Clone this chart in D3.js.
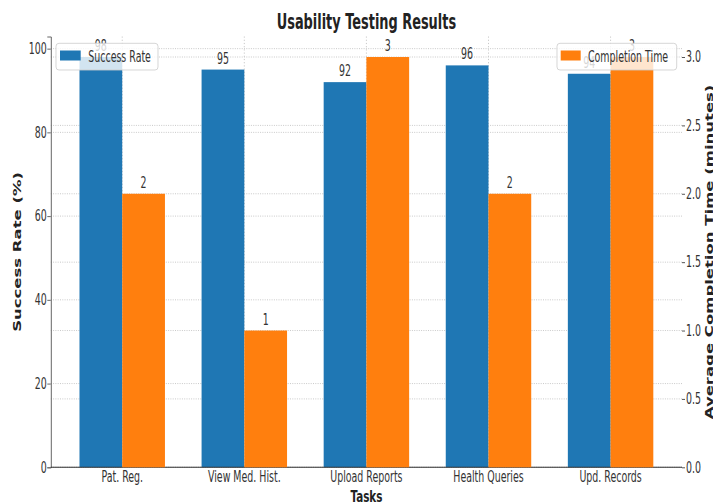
<!DOCTYPE html>
<html>
<head>
<meta charset="utf-8">
<script src="https://cdn.jsdelivr.net/npm/d3@7"></script>
<style>
  html, body { margin: 0; padding: 0; background: #fff; }
  svg { display: block; font-family: "DejaVu Sans", sans-serif; }
</style>
</head>
<body>
<svg id="chart" width="713" height="504"></svg>
<script>
// ---- data ----
const tasks = ["Pat. Reg.", "View Med. Hist.", "Upload Reports", "Health Queries", "Upd. Records"];
const successRate = [98, 95, 92, 96, 94];
const completionTime = [2, 1, 3, 2, 3];
const leftTicks = [0, 20, 40, 60, 80, 100];
const rightTicks = [0, 0.5, 1.0, 1.5, 2.0, 2.5, 3.0];
const seriesNames = ["Success Rate", "Completion Time"];
const title = "Usability Testing Results";
const xLabel = "Tasks";
const yLabelLeft = "Success Rate (%)";
const yLabelRight = "Average Completion Time (minutes)";

// ---- layout ----
const SX = 0.63;              // horizontal squeeze of the reference's text
const plot = { left: 50.8, right: 682, top: 36.5, bottom: 467.3 };
const barW = 0.35;
const blue = "#1f77b4", orange = "#ff7f0e";
const textCol = "#333";

const svg = d3.select("#chart");

const x = d3.scaleLinear().domain([-0.585, tasks.length - 1 + 0.585]).range([plot.left, plot.right]);
const yL = d3.scaleLinear().domain([0, d3.max(successRate) * 1.05]).range([plot.bottom, plot.top]);
const yR = d3.scaleLinear().domain([0, d3.max(completionTime) * 1.05]).range([plot.bottom, plot.top]);

function sText(parent, tx, ty, str, opts = {}) {
  const rot = opts.rotate ? ` rotate(${opts.rotate})` : "";
  return parent.append("text")
    .attr("transform", `translate(${tx},${ty}) scale(${SX},1)${rot}`)
    .attr("text-anchor", opts.anchor || "middle")
    .attr("font-size", opts.size || 15)
    .attr("font-weight", opts.weight || "normal")
    .attr("fill", opts.fill || textCol)
    .text(str);
}

// ---- grid ----
const grid = svg.append("g").attr("stroke", "#c9c9c9").attr("stroke-width", 1).attr("fill", "none");
grid.selectAll("line.gl").data(leftTicks).join("line")
  .attr("x1", plot.left).attr("x2", plot.right)
  .attr("y1", d => yL(d)).attr("y2", d => yL(d))
  .attr("stroke-dasharray", "1,1.3");
grid.selectAll("line.gr").data(rightTicks).join("line")
  .attr("class", "gr")
  .attr("x1", plot.left).attr("x2", plot.right)
  .attr("y1", d => yR(d)).attr("y2", d => yR(d))
  .attr("stroke-dasharray", "1,1.3");
grid.selectAll("line.gx").data(tasks).join("line")
  .attr("class", "gx")
  .attr("x1", (d, i) => x(i)).attr("x2", (d, i) => x(i))
  .attr("y1", plot.top).attr("y2", plot.bottom)
  .attr("stroke-dasharray", "1.2,2");

// ---- ax1 : success rate ----
svg.append("g").selectAll("rect").data(successRate).join("rect")
  .attr("x", (d, i) => x(i - barW)).attr("width", x(barW) - x(0))
  .attr("y", d => yL(d)).attr("height", d => yL(0) - yL(d))
  .attr("fill", blue);
const lab1 = svg.append("g");
successRate.forEach((d, i) => sText(lab1, x(i - barW / 2), yL(d) - 6, String(d)));

// left axis
const axL = svg.append("g").attr("transform", `translate(${plot.left},0)`)
  .call(d3.axisLeft(yL).tickValues(leftTicks).tickFormat(d3.format("d")).tickSize(3.5).tickPadding(2));
axL.select(".domain").attr("stroke", "#666");
axL.selectAll(".tick line").attr("stroke", "#666");
axL.selectAll(".tick text")
  .attr("font-family", "DejaVu Sans").attr("font-size", 15).attr("fill", textCol)
  .attr("x", -4 / SX).attr("transform", `scale(${SX},1)`);

// bottom axis
svg.append("line").attr("x1", plot.left).attr("x2", plot.right)
  .attr("y1", plot.bottom).attr("y2", plot.bottom)
  .attr("stroke", "#333").attr("stroke-width", 1.1);
const xt = svg.append("g");
tasks.forEach((t, i) => sText(xt, x(i), 482, t));

// legend 1
const lg1 = svg.append("g");
lg1.append("rect").attr("x", 56).attr("y", 43.3).attr("width", 102).attr("height", 26.7)
  .attr("rx", 3).attr("fill", "#fff").attr("fill-opacity", 0.8)
  .attr("stroke", "#ccc").attr("stroke-opacity", 0.8);
lg1.append("rect").attr("x", 60).attr("y", 50.5).attr("width", 20.7).attr("height", 10).attr("fill", blue);
sText(lg1, 88.3, 61.5, seriesNames[0], { anchor: "start" });

// ---- ax2 : completion time ----
svg.append("g").selectAll("rect").data(completionTime).join("rect")
  .attr("x", (d, i) => x(i)).attr("width", x(barW) - x(0))
  .attr("y", d => yR(d)).attr("height", d => yR(0) - yR(d))
  .attr("fill", orange);
const lab2 = svg.append("g");
completionTime.forEach((d, i) => sText(lab2, x(i + barW / 2), yR(d) - 6, String(d)));

// right axis (no spine)
const axR = svg.append("g").attr("transform", `translate(${plot.right},0)`)
  .call(d3.axisRight(yR).tickValues(rightTicks).tickFormat(d3.format(".1f")).tickSize(3).tickPadding(2));
axR.select(".domain").remove();
axR.selectAll(".tick line").attr("stroke", "#555");
axR.selectAll(".tick text")
  .attr("font-family", "DejaVu Sans").attr("font-size", 15).attr("fill", textCol)
  .attr("x", 4 / SX).attr("transform", `scale(${SX},1)`);

// legend 2
const lg2 = svg.append("g");
lg2.append("rect").attr("x", 557).attr("y", 43.3).attr("width", 119.7).attr("height", 26.7)
  .attr("rx", 3).attr("fill", "#fff").attr("fill-opacity", 0.8)
  .attr("stroke", "#ccc").attr("stroke-opacity", 0.8);
lg2.append("rect").attr("x", 560.7).attr("y", 50.5).attr("width", 20).attr("height", 10).attr("fill", orange);
sText(lg2, 588, 61.5, seriesNames[1], { anchor: "start" });

// ---- titles ----
sText(svg, (plot.left + plot.right) / 2, 29, title, { size: 20.5, weight: "bold", fill: "#222" });
sText(svg, (plot.left + plot.right) / 2, 501.5, xLabel, { size: 16.5, weight: "bold", fill: "#222" });
const midY = (plot.top + plot.bottom) / 2;
sText(svg, 21, midY, yLabelLeft, { size: 16.5, weight: "bold", fill: "#222", rotate: -90 });
sText(svg, 712.6, midY, yLabelRight, { size: 16.5, weight: "bold", fill: "#222", rotate: -90 });
</script>
</body>
</html>
